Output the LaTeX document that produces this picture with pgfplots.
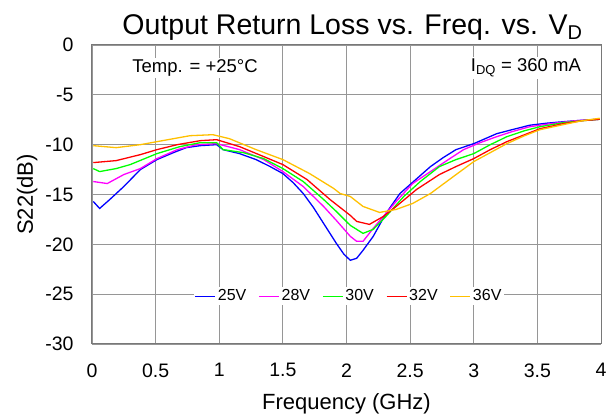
\documentclass[border=0pt]{standalone}
\usepackage{pgfplots}
\pgfplotsset{compat=1.18}
\usepackage{fontspec}
\setmainfont{Liberation Sans}
\definecolor{cblue}{RGB}{0,0,255}
\definecolor{cmag}{RGB}{255,0,255}
\definecolor{cgreen}{RGB}{0,255,0}
\definecolor{cred}{RGB}{255,0,0}
\definecolor{corange}{RGB}{255,192,0}
\definecolor{gridgray}{RGB}{150,150,150}
\begin{document}
\begin{tikzpicture}
\path (-92pt,-75pt) rectangle (524pt,344pt);
\begin{axis}[
  at={(0pt,0pt)}, anchor=south west,
  scale only axis, width=509pt, height=299pt,
  xmin=0, xmax=4, ymin=-30, ymax=0,
  xtick={0,0.5,...,4}, ytick={-30,-25,...,0},
  xticklabels={0,0.5,1,1.5,2,2.5,3,3.5,4},
  /pgf/number format/assume math mode=true,
  tick label style={font=\fontsize{19.5}{22}\selectfont},
  xticklabel style={yshift=-16pt},
  yticklabel style={xshift=-15pt},
  major tick length=0pt,
  grid=major,
  major grid style={gridgray, line width=0.9pt},
  axis line style={gridgray!80!black, line width=1pt},
  xlabel={Frequency (GHz)}, ylabel={S22(dB)},
  label style={font=\fontsize{22}{25}\selectfont},
  xlabel style={yshift=-9pt},
  ylabel style={yshift=1pt},
  title={Output Return Loss vs. Freq. vs. V\textsubscript{D}},
  title style={font=\fontsize{28.5}{32}\selectfont, yshift=-5pt, xshift=6pt},
  legend columns=5,
  legend style={at={(axis cs:2.02,-25.2)}, anchor=center, draw=none, fill=white,
    font=\fontsize{16}{18}\selectfont, inner sep=1pt,
    /tikz/every even column/.append style={column sep=10pt}},
  legend image code/.code={\draw[#1] (0pt,0pt) -- (20pt,0pt);},
  every axis plot/.append style={line width=1.3pt},
]
\addplot[cblue] coordinates {(0.01,-15.7)(0.06,-16.4)(0.14,-15.5)(0.25,-14.2)(0.38,-12.5)(0.51,-11.5)(0.64,-10.8)(0.74,-10.3)(0.85,-10.1)(0.98,-10.0)(1.03,-10.5)(1.16,-10.9)(1.29,-11.5)(1.40,-12.2)(1.50,-12.9)(1.58,-13.8)(1.66,-14.9)(1.74,-16.3)(1.82,-17.9)(1.92,-19.9)(1.98,-21.0)(2.03,-21.6)(2.08,-21.4)(2.13,-20.6)(2.21,-19.2)(2.31,-16.9)(2.42,-14.9)(2.50,-14.0)(2.58,-13.1)(2.66,-12.2)(2.76,-11.3)(2.86,-10.5)(3.0,-9.9)(3.18,-8.9)(3.30,-8.5)(3.44,-8.05)(3.57,-7.85)(3.70,-7.7)(3.85,-7.55)(3.99,-7.45)};
\addlegendentry{25V}
\addplot[cmag] coordinates {(0.01,-13.7)(0.12,-13.9)(0.25,-13.0)(0.38,-12.4)(0.51,-11.4)(0.67,-10.5)(0.82,-10.0)(0.98,-9.9)(1.16,-10.5)(1.35,-11.5)(1.50,-12.7)(1.66,-14.2)(1.82,-16.2)(1.92,-17.6)(2.03,-19.2)(2.08,-19.7)(2.13,-19.7)(2.21,-18.4)(2.29,-17.2)(2.39,-15.7)(2.52,-13.9)(2.66,-12.7)(2.80,-11.5)(2.92,-10.5)(3.05,-9.8)(3.18,-9.2)(3.30,-8.7)(3.44,-8.2)(3.60,-7.9)(3.80,-7.6)(3.99,-7.45)};
\addlegendentry{28V}
\addplot[cgreen] coordinates {(0.01,-12.4)(0.06,-12.7)(0.19,-12.4)(0.30,-12.0)(0.51,-10.9)(0.69,-10.2)(0.85,-9.8)(0.98,-9.8)(1.03,-10.5)(1.19,-10.8)(1.35,-11.4)(1.50,-12.4)(1.66,-13.7)(1.82,-15.5)(1.92,-16.7)(2.03,-18.1)(2.13,-18.9)(2.21,-18.5)(2.31,-17.2)(2.45,-15.2)(2.58,-13.7)(2.73,-12.2)(2.86,-11.5)(3.0,-10.9)(3.13,-10.0)(3.26,-9.2)(3.40,-8.6)(3.52,-8.2)(3.70,-7.8)(3.85,-7.6)(3.99,-7.45)};
\addlegendentry{30V}
\addplot[cred] coordinates {(0.01,-11.8)(0.19,-11.6)(0.38,-11.0)(0.51,-10.5)(0.67,-10.0)(0.85,-9.6)(0.98,-9.5)(1.16,-10.2)(1.35,-11.2)(1.50,-12.0)(1.69,-13.5)(1.87,-15.5)(2.03,-17.1)(2.08,-17.7)(2.18,-18.0)(2.29,-17.2)(2.39,-16.2)(2.55,-14.5)(2.73,-13.0)(2.86,-12.2)(3.0,-11.4)(3.13,-10.5)(3.26,-9.7)(3.40,-9.0)(3.52,-8.4)(3.70,-7.9)(3.85,-7.6)(3.99,-7.45)};
\addlegendentry{32V}
\addplot[corange] coordinates {(0.01,-10.1)(0.19,-10.3)(0.38,-10.0)(0.51,-9.7)(0.64,-9.4)(0.77,-9.1)(0.95,-9.0)(1.08,-9.4)(1.29,-10.5)(1.50,-11.5)(1.71,-12.9)(1.90,-14.4)(1.95,-14.9)(2.03,-15.2)(2.13,-16.2)(2.26,-16.8)(2.39,-16.5)(2.52,-15.9)(2.66,-14.9)(2.84,-13.2)(3.0,-11.7)(3.13,-10.8)(3.26,-9.9)(3.40,-9.1)(3.52,-8.5)(3.70,-8.0)(3.85,-7.6)(3.99,-7.35)};
\addlegendentry{36V}
\node[fill=white, inner sep=2pt, font=\fontsize{18.5}{21}\selectfont] at (axis cs:0.81,-2.3) {Temp. = +25\textdegree C};
\node[fill=white, inner sep=2pt, font=\fontsize{18.5}{21}\selectfont] at (axis cs:3.41,-2.3) {I\textsubscript{DQ} = 360 mA};
\end{axis}
\end{tikzpicture}
\end{document}
